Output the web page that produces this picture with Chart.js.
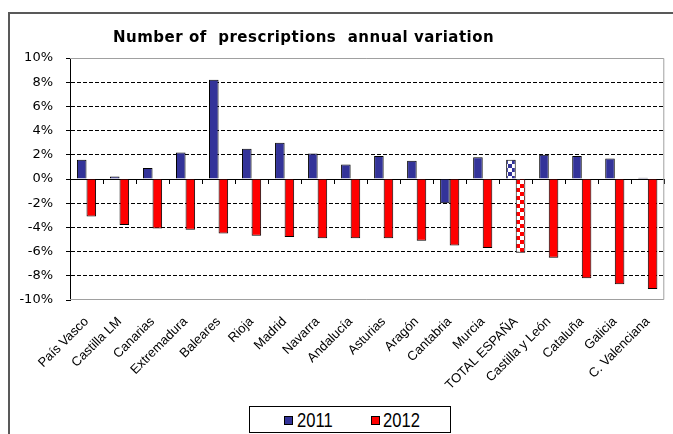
<!DOCTYPE html>
<html>
<head>
<meta charset="utf-8">
<script src="https://cdn.jsdelivr.net/npm/chart.js@4/dist/chart.umd.min.js"></script>
<style>
  body { margin: 0; background: #fff; }
  #wrap { position: relative; width: 673px; height: 434px; overflow: hidden; }
  #legend {
    position: absolute; left: 249px; top: 406px; width: 200px; height: 25px;
    border: 1px solid #000; background: #fff;
    font-family: "Liberation Sans", Arial, sans-serif; font-size: 21px; line-height: 21px; color: #000;
  }
  .sw { position: absolute; top: 9px; width: 7px; height: 7px; border: 1px solid #000; }
  .lbl { position: absolute; top: 2px; transform: scaleX(0.79); transform-origin: left top; }
</style>
</head>
<body>
<div id="wrap">
  <canvas id="c" width="673" height="434"></canvas>
  <div id="legend">
    <span class="sw" style="left:34px;background:#333399"></span><span class="lbl" style="left:47px">2011</span>
    <span class="sw" style="left:121px;background:#ff0000"></span><span class="lbl" style="left:133px">2012</span>
  </div>
</div>
<script>
const categories = ["País Vasco", "Castilla LM", "Canarias", "Extremadura", "Baleares", "Rioja", "Madrid",
    "Navarra", "Andalucía", "Asturias", "Aragón", "Cantabria", "Murcia", "TOTAL ESPAÑA",
    "Castilla y León", "Cataluña", "Galicia", "C. Valenciana"];
const values2011 = [1.6, 0.2, 0.9, 2.2, 8.2, 2.5, 3.0, 2.1, 1.2, 1.9, 1.5, -2.0, 1.8, 1.6, 2.0, 1.9, 1.7, 0.1];
const values2012 = [-3.1, -3.8, -4.1, -4.2, -4.5, -4.7, -4.8, -4.9, -4.9, -4.9, -5.1, -5.5, -5.7, -6.1, -6.5, -8.2, -8.7, -9.1];
const yTicks = [-10, -8, -6, -4, -2, 0, 2, 4, 6, 8, 10];
const totalLabel = "TOTAL ESPAÑA";

const BLUE = "#333399";
const RED = "#ff0000";

// checkered fill used for the total bar
function checker(color) {
    const p = document.createElement("canvas");
    p.width = 8;
    p.height = 8;
    const g = p.getContext("2d");
    g.fillStyle = "#fff";
    g.fillRect(0, 0, 8, 8);
    g.fillStyle = color;
    g.fillRect(0, 0, 4, 4);
    g.fillRect(4, 4, 4, 4);
    return g.createPattern(p, "repeat");
}

const ctx = document.getElementById("c").getContext("2d");
const fills = (color) => categories.map((c) => (c === totalLabel ? checker(color) : color));

// frame, plot border and title
const decor = {
    id: "decor",
    beforeDraw(chart) {
        const g = chart.ctx;
        g.save();
        g.strokeStyle = "#595959";
        g.lineWidth = 2;
        g.beginPath();
        g.moveTo(9, 434);
        g.lineTo(9, 13);
        g.lineTo(675, 13);
        g.stroke();
        g.restore();
    },
    beforeDatasetsDraw(chart) {
        const g = chart.ctx;
        const a = chart.chartArea;
        g.save();
        g.strokeStyle = "#a0a0a0";
        g.lineWidth = 1;
        g.beginPath();
        g.moveTo(a.left, a.top + 0.5);
        g.lineTo(a.right - 0.5, a.top + 0.5);
        g.lineTo(a.right - 0.5, a.bottom - 0.5);
        g.lineTo(a.left, a.bottom - 0.5);
        g.stroke();
        g.restore();
    },
    afterDraw(chart) {
        const g = chart.ctx;
        g.save();
        g.font = "bold 15px 'DejaVu Sans'";
        g.letterSpacing = "0.5px";
        g.fillStyle = "#000";
        g.textBaseline = "middle";
        g.fillText("Number of  prescriptions  annual variation", 113, 38);
        g.restore();
    },
};

new Chart(ctx, {
    type: "bar",
    data: {
        labels: categories,
        datasets: [
            { label: "2011", data: values2011, backgroundColor: fills(BLUE), borderColor: "#000", borderWidth: 1 },
            { label: "2012", data: values2012, backgroundColor: fills(RED), borderColor: "#000", borderWidth: 1 },
        ],
    },
    options: {
        responsive: false,
        animation: false,
        layout: { padding: { top: 58, right: 6, bottom: 0, left: 0 } },
        datasets: { bar: { categoryPercentage: 0.58, barPercentage: 1.0 } },
        plugins: { legend: { display: false }, title: { display: false }, tooltip: { enabled: false } },
        scales: {
            x: {
                position: "bottom",
                grid: { display: false, drawTicks: false },
                border: { display: false },
                ticks: {
                    autoSkip: false,
                    minRotation: 45,
                    maxRotation: 45,
                    padding: 14,
                    color: "#000",
                    font: { family: "'Liberation Sans'", size: 13 },
                },
                afterFit: (s) => { s.height = 134; },
            },
            x0: {
                type: "category",
                axis: "x",
                labels: categories,
                position: { y: 0 },
                offset: true,
                ticks: { display: false },
                grid: { offset: true, drawOnChartArea: false, drawTicks: true, tickLength: 4, tickColor: "#000" },
                border: { display: true, color: "#000", width: 1 },
            },
            y: {
                min: -10,
                max: 10,
                afterBuildTicks: (s) => { s.ticks = yTicks.map((v) => ({ value: v })); },
                ticks: {
                    padding: 13,
                    color: "#000",
                    font: { family: "'DejaVu Sans'", size: 13 },
                    callback: (v) => v + "%",
                },
                grid: {
                    color: (c) => (c.tick && Math.abs(c.tick.value) < 10 ? "#000" : "rgba(0,0,0,0)"),
                    tickColor: "#000",
                    tickLength: 4,
                    lineWidth: 1,
                },
                border: { display: true, color: "#000", width: 1, dash: [4, 2] },
                afterFit: (s) => { s.width = 70; },
            },
        },
    },
    plugins: [decor],
});
</script>
</body>
</html>
